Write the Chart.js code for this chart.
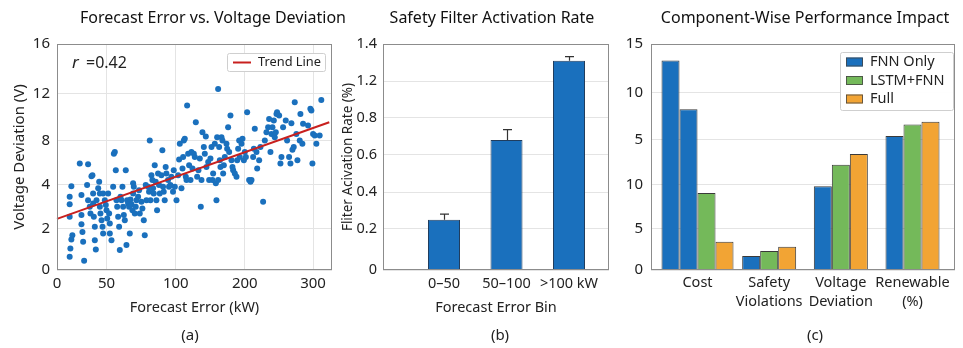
<!DOCTYPE html>
<html><head><meta charset="utf-8">
<script src="https://cdn.jsdelivr.net/npm/chart.js@4.4.1/dist/chart.umd.min.js"></script>
<style>
html,body{margin:0;padding:0;background:#fff;}
#wrap{position:relative;width:963px;height:348px;overflow:hidden;}
canvas{position:absolute;left:0;top:0;pointer-events:none;}
</style></head><body>
<div id="wrap">
<canvas id="ca" width="963" height="348"></canvas>
<canvas id="cb" width="963" height="348"></canvas>
<canvas id="cc" width="963" height="348"></canvas>
</div>
<script>
// ---------------- DATA ----------------
// (a) scatter: [forecast error kW, voltage deviation V]
const scatterPoints = [
[12.8,3.44],[12.8,3.11],[12.8,2.54],[14.5,1.48],[13.5,1.05],[12.8,0.65],[14.5,3.92],[15.5,1.69],
[23,5.9],[24.7,3.52],[24.7,2.62],[24.7,2.21],[25.7,1.85],[26.4,1.37],[27.4,0.45],[31.4,5.83],
[30.4,3.97],[31.4,3.29],[33.1,2.99],[33.8,2.69],[34.8,4.75],[35.8,4.84],[36.5,3.59],[36.5,3.14],
[37.2,2.54],[38.2,2.09],[38.2,1.45],[39.2,1.0],[39.9,3.29],[41.6,3.82],[42.6,4.24],[43.3,3.59],
[43.3,2.99],[43.9,2.69],[45,2.39],[46,2.09],[46.6,1.77],[46.6,3.59],[48.3,3.29],[49.3,3.07],
[50,2.84],[50.5,2.47],[51.2,3.59],[51.9,2.69],[52.4,2.24],[52.4,1.77],
[53.6,1.45],[54.8,3.89],[55.3,6.8],[56,6.95],[56.7,5.29],[57.2,3.29],[57.7,2.99],[58.4,2.54],
[59.1,2.09],[59.6,0.97],[60.1,3.44],[60.8,3.29],[61.5,3.89],[62,2.99],[62.5,2.62],[63.2,2.39],
[63.9,5.29],[64.4,1.21],[64.9,3.29],[65.6,3.14],[66.3,2.99],[66.8,1.77],[67.3,3.32],[68,3.11],
[68.7,2.84],[69.2,4.09],[69.2,3.59],[69.7,3.89],[70.4,2.69],[71.1,2.99],[71.6,3.29],[72.8,3.44],
[73.5,3.74],[74,2.69],[75.2,3.22],[75.9,2.92],[76.9,2.39],[77.6,1.69],
[78.3,3.97],[78.8,3.29],[80,3.89],[80.7,3.67],[81.2,8],[81.7,3.29],[82.4,4.84],[83.1,4.39],
[83.6,3.82],[84.1,3.59],[84.8,5.74],[85.5,4.24],[86,3.29],[86.5,2.84],[87.2,4.99],[87.9,3.97],
[88.4,3.59],[89.6,4.84],[90.3,7.1],[90.8,3.89],[91.3,3.67],[92,3.29],[92.7,5.59],[93.2,4.99],
[94.4,4.39],[95.1,3.89],[96.1,3.97],[96.8,4.69],[98,3.67],[98.5,5.29],[99.3,3.89],
[101,3.29],[103.4,4.84],[104.8,6.26],[105.8,7.7],[108.2,3.82],[109.7,5.44],[110.6,6.5],[111.6,8],
[113,8.14],[114.5,4.69],[115.5,4.39],[116.4,10.96],[117.9,6.8],[119.3,5.74],[121.3,4.39],[122.7,6.95],
[124.2,5.44],[126.1,6.8],[127.5,6.5],[129,9.55],[130.9,4.69],[132.8,5.29],[134.8,6.35],[136.2,2.99],
[137.2,4.39],[138.6,8.7],[140.6,7.4],[142,6.8],[143.5,8.34],[144.4,5.59],[146.9,6.05],[148.3,4.39],
[150.2,6.35],[151.7,7.4],[153.1,4.39],[154.1,4.99],
[156.5,7.7],[158,4.09],[158.9,3.29],[159.9,8.28],[161.3,12.35],[161.3,4.39],[162.8,7.4],[163.8,6.2],
[164.7,5.59],[166.2,8.28],[167.6,8],[168.6,4.99],[169.6,5.74],[171,6.5],[173.4,7.7],[174.4,7.25],
[175.8,9.13],[177.3,6.95],[179.2,10.11],[180.7,6.2],[182.1,5.59],[183.1,5.29],[185.5,4.99],[187.9,4.69],
[188.9,6.2],[190.3,7.25],[191.8,8],[192.7,6.5],[195.2,7.7],[196.6,8.14],[198.6,6.2],[200,6.95],
[201.5,6.5],[203.4,10.39],
[206.3,4.39],[208.3,4.24],[209.8,4.39],[212.2,6.5],[213.2,7.25],[214.6,8.99],[217.1,6.95],[218.1,5.44],
[221,6.2],[222.9,7.4],[226.8,3.22],[229.3,8],[231.7,8.7],[234.2,9.13],[235.6,9.83],[237.6,6.95],
[239,8.56],[240.5,9.13],[242.5,9.69],[243.9,8.28],[245.4,8.7],[246.4,10.25],[247.3,10.39],[250.3,10.11],
[252.2,5.9],[253.7,6.5],[256.1,9.13],[260,9.69],[262,8],[264.9,6.5],[266.9,5.9],[268.3,9.46],
[269.8,7.16],[271.7,7.4],[273.2,11.24],[275.6,8.56],[277.1,6.2],[280.5,8],[281.5,10.25],[284.4,7.7],
[285.4,9.41],[292.7,9.27],[296.1,10.68],[297.6,10.54],[299.1,5.9],[300.1,8.56],[302.5,8.42],[304.9,7.7],
[309.8,8.42],[312.2,11.44]
];
const trendX = [0, 324];
const trendY = [2.45, 9.55];
const corrR = '0.42';
const aXTicks = [0, 50, 100, 200, 300];
const aYTicks = [0, 2, 4, 8, 12, 16];

// (b) bars
const binLabels = ['0\u201350', '50\u2013100', '>100 kW'];
const rateValues = [0.25, 0.68, 1.31];
const rateErrors = [0.03, 0.055, 0.022];
const bYTicks = [0, 0.2, 0.4, 0.6, 0.8, 1.2, 1.4];
const bYTickLabels = ['0', '0.2', '0.4', '0.6', '0.8', '1.2', '1.4'];

// (c) grouped bars (axis units)
const metricLabels = [['Cost'], ['Safety', 'Violations'], ['Voltage', 'Deviation'], ['Renewable', '(%)']];
const fnnOnly = [23.3, 1.69, 9.81, 15.38];
const fnnOnlyCostExtra = [18.2, null, null, null];
const lstmFnn = [9.05, 2.3, 12.22, 16.6];
const fullModel = [3.43, 2.82, 13.4, 16.9];
const cYTicks = [0, 5, 10, 15, 20, 25];
const cYTickLabels = ['0', '5', '10', '5', '10', '15'];

// ---------------- SCALE ----------------
class PiecewiseScale extends Chart.LinearScale {
  static id = 'piecewise';
  static defaults = {};
  determineDataLimits() {
    const a = this.options.anchors;
    this.min = a[0][0]; this.max = a[a.length - 1][0];
  }
  buildTicks() { return this.options.tickValues.map(v => ({ value: v })); }
  _frac(v) {
    const a = this.options.anchors;
    let i = 0;
    while (i < a.length - 2 && v > a[i + 1][0]) i++;
    const v0 = a[i][0], f0 = a[i][1], v1 = a[i + 1][0], f1 = a[i + 1][1];
    return f0 + (v - v0) / (v1 - v0) * (f1 - f0);
  }
  getPixelForValue(v) {
    if (v === null || v === undefined || isNaN(v)) return NaN;
    return this.getPixelForDecimal(this._frac(v));
  }
  getValueForPixel(p) {
    const f = this.getDecimalForPixel(p), a = this.options.anchors;
    let i = 0;
    while (i < a.length - 2 && f > a[i + 1][1]) i++;
    const v0 = a[i][0], f0 = a[i][1], v1 = a[i + 1][0], f1 = a[i + 1][1];
    return v0 + (f - f0) / (f1 - f0) * (v1 - v0);
  }
}
Chart.register(PiecewiseScale);

Chart.defaults.font.family = "'Noto Sans', 'Open Sans', sans-serif";
Chart.defaults.color = '#2b2b2b';
Chart.defaults.animation = false;
Chart.defaults.responsive = false;
Chart.defaults.devicePixelRatio = 1;

const TXT = '#222';
const GRID = '#e4e4e4';
const FRAME = '#8c8c8c';
const BLUE = '#1a70bd';
const GREEN = '#74b95a';
const ORANGE = '#f2a434';

function frame(ctx, a) {
  ctx.save();
  ctx.strokeStyle = FRAME; ctx.lineWidth = 1;
  const l = Math.round(a.left) + 0.5, t = Math.round(a.top) + 0.5,
        r = Math.round(a.right) - 0.5, b = Math.round(a.bottom) - 0.5;
  ctx.strokeRect(l, t, r - l, b - t);
  ctx.restore();
}
function text(ctx, s, x, y, font, align, color) {
  ctx.save();
  ctx.font = font; ctx.fillStyle = color || TXT;
  ctx.textAlign = align || 'center'; ctx.textBaseline = 'middle';
  ctx.fillText(s, x, y);
  ctx.restore();
}
function roundBox(ctx, x, y, w, h, r) {
  ctx.beginPath();
  ctx.moveTo(x + r, y); ctx.lineTo(x + w - r, y); ctx.quadraticCurveTo(x + w, y, x + w, y + r);
  ctx.lineTo(x + w, y + h - r); ctx.quadraticCurveTo(x + w, y + h, x + w - r, y + h);
  ctx.lineTo(x + r, y + h); ctx.quadraticCurveTo(x, y + h, x, y + h - r);
  ctx.lineTo(x, y + r); ctx.quadraticCurveTo(x, y, x + r, y); ctx.closePath();
}
const TITLE_FONT = "16px 'Noto Sans', sans-serif";
const TITLE_COLOR = '#111';
const PANEL_FONT = "15px 'Noto Sans', sans-serif";

// ---------------- (a) ----------------
new Chart(document.getElementById('ca'), {
  type: 'scatter',
  data: {
    datasets: [
      { type: 'line', label: 'Trend Line', data: trendX.map((x, i) => ({ x, y: trendY[i] })),
        borderColor: '#c8201e', borderWidth: 2, pointRadius: 0, order: 0, fill: false },
      { label: 'Samples', data: scatterPoints.map(p => ({ x: p[0], y: p[1] })),
        backgroundColor: BLUE, borderWidth: 0, pointRadius: 3, order: 1 }
    ]
  },
  options: {
    layout: { padding: { left: 0, top: 44, right: 631, bottom: 0 } },
    plugins: { legend: { display: false }, tooltip: { enabled: false } },
    scales: {
      x: { type: 'piecewise', position: 'bottom',
        anchors: [[0, 0], [50, 0.18], [100, 0.432], [200, 0.683], [300, 0.931], [328, 1]],
        tickValues: aXTicks,
        grid: { color: GRID, drawTicks: false }, border: { display: false },
        ticks: { padding: 5, color: TXT, font: { size: 15 }, autoSkip: false, maxRotation: 0, callback: v => String(v) },
        title: { display: true, text: 'Forecast Error (kW)', color: TXT, font: { size: 14.5 }, padding: { top: 0, bottom: 31 } },
        afterFit: s => { s.height = 78; } },
      y: { type: 'piecewise', position: 'left',
        anchors: [[0, 0], [2, 0.182], [4, 0.379], [8, 0.573], [12, 0.782], [16, 1]],
        tickValues: aYTicks,
        grid: { color: GRID, drawTicks: false }, border: { display: false },
        ticks: { padding: 7, color: TXT, font: { size: 15 }, autoSkip: false, callback: v => String(v) },
        title: { display: true, text: 'Voltage Deviation (V)', color: TXT, font: { size: 15 }, padding: { top: 11 } },
        afterFit: s => { s.width = 57; } }
    }
  },
  plugins: [{
    id: 'decorA',
    afterDraw(chart) {
      const ctx = chart.ctx, a = chart.chartArea;
      frame(ctx, a);
      text(ctx, 'Forecast Error vs. Voltage Deviation', 213, 18, TITLE_FONT, 'center', TITLE_COLOR);
      text(ctx, '(a)', 190, 336, PANEL_FONT);
      text(ctx, 'r', 72, 63, "italic 17px 'Noto Sans', sans-serif", 'left');
      text(ctx, '=' + corrR, 86, 63, "16px 'Noto Sans', sans-serif", 'left');
      // legend
      ctx.save();
      roundBox(ctx, 227.5, 53.5, 98, 18, 2);
      ctx.fillStyle = '#fff'; ctx.fill();
      ctx.strokeStyle = '#cfcfcf'; ctx.lineWidth = 1; ctx.stroke();
      const ds = chart.data.datasets[0];
      ctx.strokeStyle = ds.borderColor; ctx.lineWidth = 2;
      ctx.beginPath(); ctx.moveTo(233, 62.5); ctx.lineTo(251, 62.5); ctx.stroke();
      ctx.restore();
      text(ctx, ds.label, 258, 62.5, "12.8px 'Noto Sans', sans-serif", 'left');
    }
  }]
});

// ---------------- (b) ----------------
new Chart(document.getElementById('cb'), {
  type: 'bar',
  data: {
    datasets: [{ label: 'Filter activation rate', data: rateValues.map((v, i) => ({ x: i, y: v })),
      backgroundColor: BLUE, borderColor: '#203d5e', borderWidth: 1, barThickness: 32, inflateAmount: 0 }]
  },
  options: {
    layout: { padding: { left: 340, top: 44, right: 354, bottom: 0 } },
    plugins: { legend: { display: false }, tooltip: { enabled: false } },
    scales: {
      x: { type: 'linear', min: -0.976, max: 2.64, offset: false,
        afterBuildTicks: s => { s.ticks = binLabels.map((_, i) => ({ value: i })); },
        grid: { display: false, drawTicks: false }, border: { display: false },
        ticks: { padding: 5, color: TXT, font: { size: 14.5 }, autoSkip: false, maxRotation: 0,
          callback: v => binLabels[v] },
        title: { display: true, text: 'Forecast Error Bin', color: TXT, font: { size: 14.5 }, padding: { top: 0, bottom: 31 } },
        afterFit: s => { s.height = 78; } },
      y: { type: 'piecewise',
        anchors: [[0, 0], [0.2, 0.182], [0.4, 0.345], [0.6, 0.51], [0.8, 0.674], [1.2, 0.835], [1.4, 1]],
        tickValues: bYTicks,
        grid: { color: GRID, drawTicks: false }, border: { display: false },
        ticks: { padding: 6, color: TXT, font: { size: 14.5 }, autoSkip: false, callback: (v, i) => bYTickLabels[i] },
        title: { display: true, text: 'Fliter Acivation Rate (%)', color: TXT, font: { size: 13.5 }, padding: { top: 0 } },
        afterFit: s => { s.width = 43; } }
    }
  },
  plugins: [{
    id: 'decorB',
    afterDraw(chart) {
      const ctx = chart.ctx, a = chart.chartArea;
      const xs = chart.scales.x, ys = chart.scales.y;
      ctx.save();
      ctx.strokeStyle = '#333'; ctx.lineWidth = 1.2;
      rateValues.forEach((v, i) => {
        const x = Math.round(xs.getPixelForValue(i)) + 0.5;
        const yb = ys.getPixelForValue(v), yt = ys.getPixelForValue(v + rateErrors[i]);
        ctx.beginPath();
        ctx.moveTo(x, yb); ctx.lineTo(x, yt);
        ctx.moveTo(x - 4.5, yt); ctx.lineTo(x + 4.5, yt);
        ctx.stroke();
      });
      ctx.restore();
      frame(ctx, a);
      text(ctx, 'Safety Filter Activation Rate', 492, 18, TITLE_FONT, 'center', TITLE_COLOR);
      text(ctx, '(b)', 500, 336, PANEL_FONT);
    }
  }]
});

// ---------------- (c) ----------------
const toXY = arr => arr.map((v, i) => ({ x: i, y: v }));
const barCommon = { borderColor: '#3a3a3a', borderWidth: 1, barThickness: 18, skipNull: true, inflateAmount: 0 };
new Chart(document.getElementById('cc'), {
  type: 'bar',
  data: {
    datasets: [
      Object.assign({ label: 'FNN Only', data: toXY(fnnOnly), backgroundColor: BLUE }, barCommon),
      Object.assign({ label: '', data: toXY(fnnOnlyCostExtra), backgroundColor: BLUE, legendHidden: true }, barCommon),
      Object.assign({ label: 'LSTM+FNN', data: toXY(lstmFnn), backgroundColor: GREEN }, barCommon),
      Object.assign({ label: 'Full', data: toXY(fullModel), backgroundColor: ORANGE }, barCommon)
    ]
  },
  options: {
    layout: { padding: { left: 610, top: 44, right: 8, bottom: 0 } },
    plugins: { legend: { display: false }, tooltip: { enabled: false } },
    scales: {
      x: { type: 'linear', min: -0.649, max: 3.593, offset: false,
        afterBuildTicks: s => { s.ticks = metricLabels.map((_, i) => ({ value: i })); },
        grid: { display: false, drawTicks: false }, border: { display: false },
        ticks: { padding: 3.5, color: TXT, font: { size: 14.5, lineHeight: 1.32 }, autoSkip: false, maxRotation: 0,
          callback: v => metricLabels[v] },
        afterFit: s => { s.height = 78; } },
      y: { type: 'piecewise',
        anchors: [[0, 0], [5, 0.182], [10, 0.378], [15, 0.5765], [20, 0.7865], [25, 1]],
        tickValues: cYTicks,
        grid: { color: GRID, drawTicks: false }, border: { display: false },
        ticks: { padding: 8, color: TXT, font: { size: 15 }, autoSkip: false, callback: (v, i) => cYTickLabels[i] },
        afterFit: s => { s.width = 41; } }
    }
  },
  plugins: [{
    id: 'decorC',
    afterDraw(chart) {
      const ctx = chart.ctx, a = chart.chartArea;
      frame(ctx, a);
      text(ctx, 'Component-Wise Performance Impact', 805, 18, TITLE_FONT, 'center', TITLE_COLOR);
      text(ctx, '(c)', 815, 336, PANEL_FONT);
      ctx.save();
      roundBox(ctx, 840.5, 52.5, 113, 58, 2);
      ctx.fillStyle = 'rgba(255,255,255,0.95)'; ctx.fill();
      ctx.strokeStyle = '#cfcfcf'; ctx.lineWidth = 1; ctx.stroke();
      ctx.restore();
      const items = chart.data.datasets.filter(d => !d.legendHidden);
      items.forEach((d, i) => {
        const yc = 62 + i * 18.5;
        ctx.save();
        ctx.fillStyle = d.backgroundColor;
        ctx.fillRect(846, yc - 4.5, 17, 9);
        ctx.strokeStyle = '#444'; ctx.lineWidth = 0.8;
        ctx.strokeRect(846.5, yc - 4, 16, 8);
        ctx.restore();
        text(ctx, d.label, 870, yc, "14.5px 'Noto Sans', sans-serif", 'left');
      });
    }
  }]
});
</script>
</body></html>
